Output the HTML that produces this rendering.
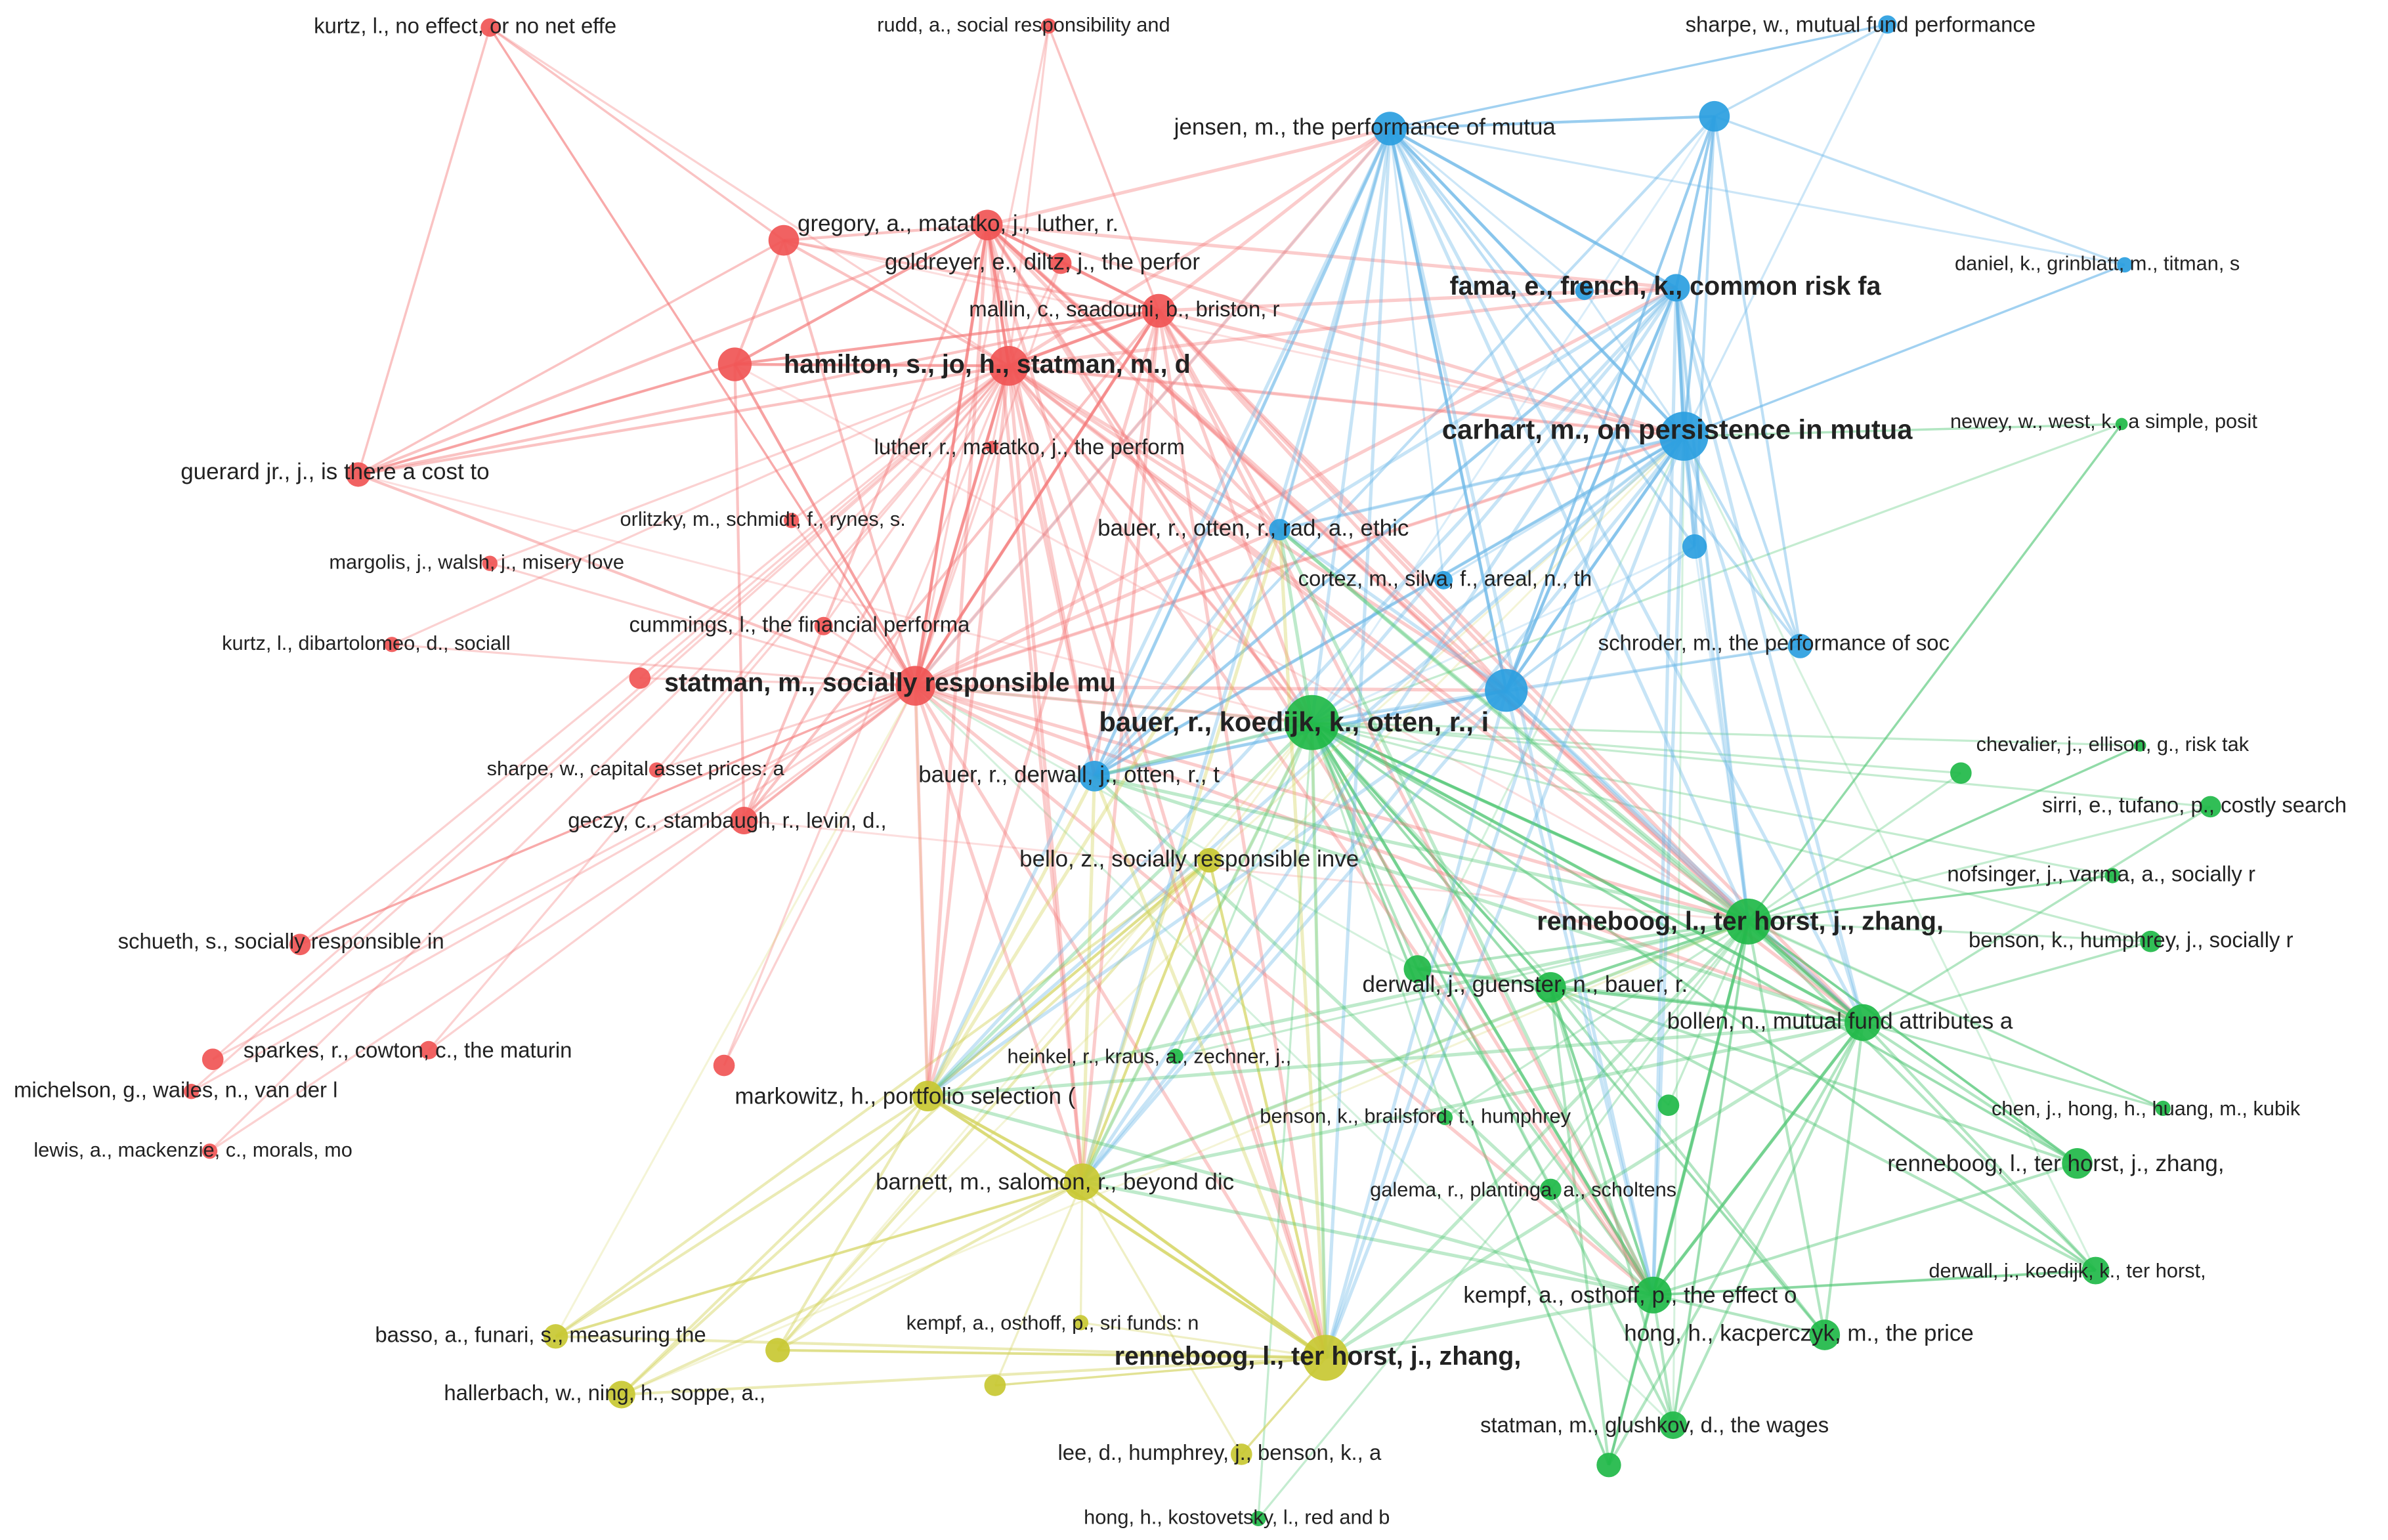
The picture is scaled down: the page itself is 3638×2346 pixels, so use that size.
<!DOCTYPE html>
<html><head><meta charset="utf-8"><style>
html,body{margin:0;padding:0;background:#fff;}
svg{display:block}
text{font-family:"Liberation Sans",sans-serif;fill:#222;dominant-baseline:middle}
</style></head><body>
<svg id="s" width="3638" height="2346" viewBox="0 0 1560 1006" xmlns="http://www.w3.org/2000/svg">
<g id="edges"></g><g id="nodes"></g><g id="labels"></g>
</svg>
<script>
const C={r:'#f05555',b:'#2a9ee0',g:'#1fb848',y:'#c8c832'};
const E={r:'#f47a7a',b:'#6cb8e8',g:'#55c877',y:'#d2d25a'};
const N=[
['r',320,18,6],['r',685,17,5],['r',645,147,10],['r',512,157,10],['r',693,172,7],['r',757,203,11],
['r',659,239,13],['r',480,238,11],['r',234,310,8],['r',648,292,4],['r',517,340,5],['r',320,368,5],
['r',256,421,5],['r',538,409,6],['r',418,443,7],['r',598,448,13],['r',429,503,5],['r',486,536,9],
['r',196,617,7],['r',280,686,6],['r',139,692,7],['r',125,713,5],['r',473,696,7],['r',137,752,5],
['b',1233,16,6],['b',908,84,11],['b',1120,76,10],['b',1095,188,9],['b',1035,190,6],['b',1388,173,5],
['b',1100,285,16],['b',836,346,7],['b',1107,357,8],['b',943,379,6],['b',1176,422,8],['b',984,451,14],['b',715,507,10],
['g',857,472,18],['g',1386,277,4],['g',1281,505,7],['g',1398,487,4],['g',1444,527,7],['g',1380,572,5],
['g',1142,602,15],['g',1405,615,7],['g',926,633,9],['g',1013,645,10],['g',1217,668,12],['g',768,690,5],
['g',1090,722,7],['g',1413,724,5],['g',944,730,5],['g',1357,760,10],['g',1013,777,7],['g',1369,830,9],
['g',1080,846,12],['g',1192,872,10],['g',1093,931,9],['g',1051,957,8],['g',822,992,5],
['y',790,562,8],['y',606,716,10],['y',707,772,12],['y',706,864,5],['y',866,887,15],['y',363,873,8],
['y',508,882,8],['y',406,911,9],['y',650,905,7],['y',811,950,7]
];
const hubIdx={r:[15,6,2,5,7],b:[30,25,27,35,26],g:[37,43,47,55,46],y:[64,62,61,60]};
const allHubs=[15,6,2,5,30,25,27,35,37,43,47,55,64,62,61,36,31];
let eg='';
function line(a,b,col,w,o){eg+=`<line x1="${N[a][1]}" y1="${N[a][2]}" x2="${N[b][1]}" y2="${N[b][2]}" stroke="${col}" stroke-width="${w}" stroke-opacity="${o}"/>`;}
N.forEach((n,i)=>{
 const small=n[3]<=7;
 const hs=hubIdx[n[0]].slice(0,small?2:5);
 hs.forEach(h=>{if(h!==i)line(i,h,E[n[0]],small?1.4:1.8,small?0.35:0.45);});
 if(small) return;
 if(i%2==0){line(i,37,E[n[0]],1.3,0.25);}
 if(i%3==0){line(i,30,E[n[0]],1.3,0.25);}
 if(i%4==1){line(i,15,E[n[0]],1.3,0.25);}
 if(i%5==2){line(i,43,E[n[0]],1.3,0.25);}
});
for(let a=0;a<allHubs.length;a++)for(let b=a+1;b<allHubs.length;b++){
 const i=allHubs[a],j=allHubs[b];line(i,j,E[N[i][0]],2.2,0.38);}
[[0,8],[0,3],[0,15],[8,3],[8,7],[18,15],[1,5],[24,26],[24,25],[29,30],[29,26],[38,30],[38,43],[40,43],[41,47],[42,43],[44,47],[50,47],[52,43],[54,55],[58,55],[68,64],[66,64],[65,62],[69,64]].forEach(p=>line(p[0],p[1],E[N[p[0]][0]],1.5,0.45));
document.getElementById('edges').innerHTML=eg;
let ng='';
N.forEach(n=>{ng+=`<circle cx="${n[1]}" cy="${n[2]}" r="${n[3]}" fill="${C[n[0]]}" fill-opacity="0.92"/>`;});
document.getElementById('nodes').innerHTML=ng;
const L=[
[205,18,15,'kurtz, l., no effect, or no net effe'],[573,17,14,'rudd, a., social responsibility and'],
[1101,17,15,'sharpe, w., mutual fund performance'],[767,84,16,'jensen, m., the performance of mutua'],
[521,147,16,'gregory, a., matatko, j., luther, r.'],[578,172,16,'goldreyer, e., diltz, j., the perfor'],
[947,188,18,'fama, e., french, k., common risk fa',1],[1277,173,14,'daniel, k., grinblatt, m., titman, s'],
[633,203,15,'mallin, c., saadouni, b., briston, r'],[512,239,18,'hamilton, s., jo, h., statman, m., d',1],
[942,282,19,'carhart, m., on persistence in mutua',1],[1274,276,14,'newey, w., west, k., a simple, posit'],
[118,309,16,'guerard jr., j., is there a cost to'],[571,293,15,'luther, r., matatko, j., the perform'],
[405,340,14,'orlitzky, m., schmidt, f., rynes, s.'],[717,346,16,'bauer, r., otten, r., rad, a., ethic'],
[215,368,14,'margolis, j., walsh, j., misery love'],[848,379,15,'cortez, m., silva, f., areal, n., th'],
[411,409,15,'cummings, l., the financial performa'],[145,421,14,'kurtz, l., dibartolomeo, d., sociall'],
[1044,421,15,'schroder, m., the performance of soc'],[434,447,18,'statman, m., socially responsible mu',1],
[718,473,19,'bauer, r., koedijk, k., otten, r., i',1],[1291,487,14,'chevalier, j., ellison, g., risk tak'],
[318,503,14,'sharpe, w., capital asset prices: a'],[600,507,16,'bauer, r., derwall, j., otten, r., t'],
[1334,527,15,'sirri, e., tufano, p., costly search'],[371,537,15,'geczy, c., stambaugh, r., levin, d.,'],
[666,562,16,'bello, z., socially responsible inve'],[1272,572,15,'nofsinger, j., varma, a., socially r'],
[1004,603,18,'renneboog, l., ter horst, j., zhang,',1],[77,616,15,'schueth, s., socially responsible in'],
[1286,615,15,'benson, k., humphrey, j., socially r'],[890,644,16,'derwall, j., guenster, n., bauer, r.'],
[1089,668,16,'bollen, n., mutual fund attributes a'],[159,687,15,'sparkes, r., cowton, c., the maturin'],
[658,691,14,'heinkel, r., kraus, a., zechner, j.,'],[9,713,15,'michelson, g., wailes, n., van der l'],
[480,717,16,'markowitz, h., portfolio selection ('],[1301,725,14,'chen, j., hong, h., huang, m., kubik'],
[823,730,14,'benson, k., brailsford, t., humphrey'],[22,752,14,'lewis, a., mackenzie, c., morals, mo'],
[1233,761,16,'renneboog, l., ter horst, j., zhang,'],[572,773,16,'barnett, m., salomon, r., beyond dic'],
[895,778,14,'galema, r., plantinga, a., scholtens'],[1260,831,14,'derwall, j., koedijk, k., ter horst,'],
[956,847,16,'kempf, a., osthoff, p., the effect o'],[592,865,14,'kempf, a., osthoff, p., sri funds: n'],
[1061,872,16,'hong, h., kacperczyk, m., the price'],[245,873,15,'basso, a., funari, s., measuring the'],
[728,887,18,'renneboog, l., ter horst, j., zhang,',1],[290,911,15,'hallerbach, w., ning, h., soppe, a.,'],
[967,932,15,'statman, m., glushkov, d., the wages'],[691,950,15,'lee, d., humphrey, j., benson, k., a'],
[708,992,14,'hong, h., kostovetsky, l., red and b']
];
let lg='';
L.forEach(l=>{lg+=`<text x="${l[0]}" y="${l[1]}" font-size="${(l[2]*0.94).toFixed(1)}"${l[4]?' font-weight="bold" fill="#1a1a1a"':''}>${l[3]}</text>`;});
document.getElementById('labels').innerHTML=lg;
</script>
</body></html>
